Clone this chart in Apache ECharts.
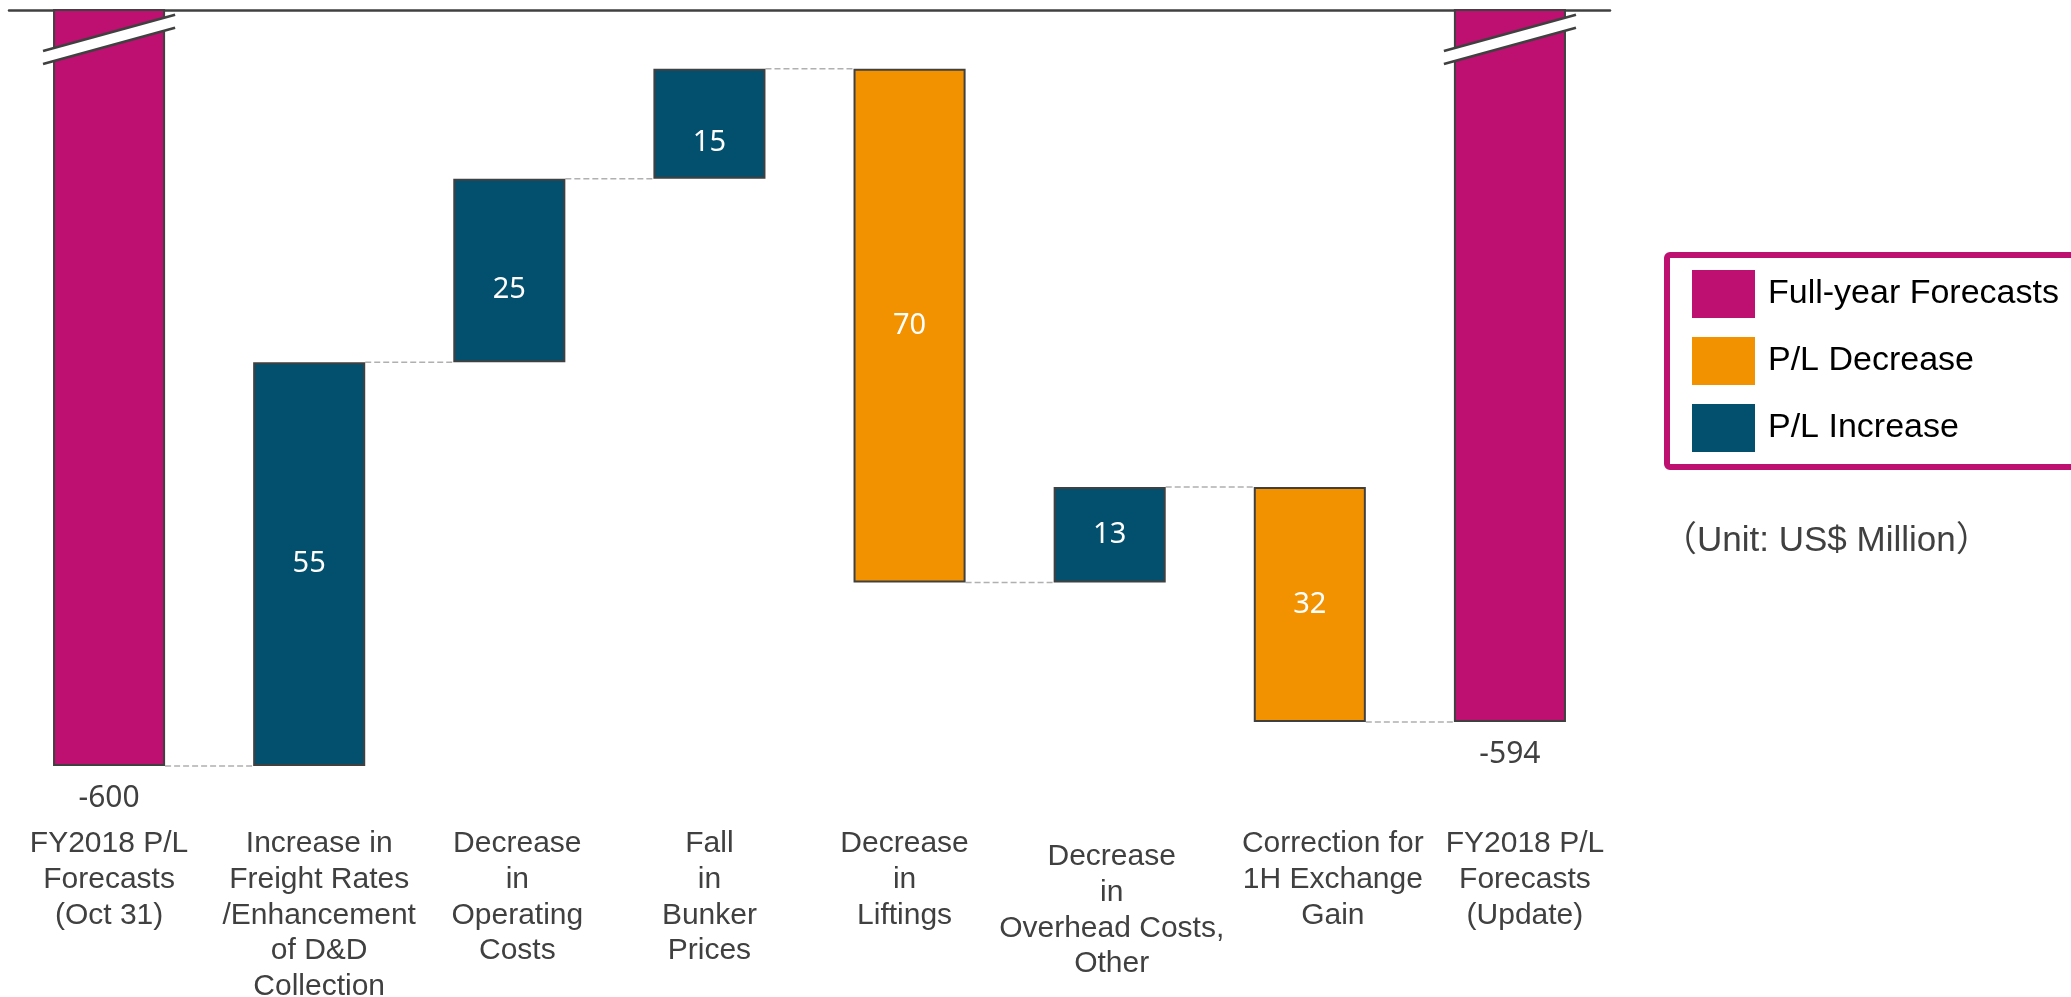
<!DOCTYPE html>
<html>
<head>
<meta charset="utf-8">
<script src="https://cdn.jsdelivr.net/npm/echarts@6/dist/echarts.min.js"></script>
<style>
html,body{margin:0;padding:0;background:#fff;}
#chart{width:2071px;height:997px;}
</style>
</head>
<body>
<div id="chart"></div>
<script>
// ---- data ----
const categories = [
  'FY2018 P/L\nForecasts\n(Oct 31)',
  'Increase in\nFreight Rates\n/Enhancement\nof D&D\nCollection',
  'Decrease\nin\nOperating\nCosts',
  'Fall\nin\nBunker\nPrices',
  'Decrease\nin\nLiftings',
  'Decrease\nin\nOverhead Costs,\nOther',
  'Correction for\n1H Exchange\nGain',
  'FY2018 P/L\nForecasts\n(Update)'
];
const startTotal = -600;
const changes = [55, 25, 15, -70, 13, -32];
const endTotal = -594;
const seriesNames = ['Full-year Forecasts', 'P/L Decrease', 'P/L Increase'];
const unitText = '（Unit: US$ Million）';
const axisMin = -600;
const axisMax = -497;
const breakValue = -501;

// ---- colours ----
const C_MAG = '#BE1070';
const C_ORG = '#F29200';
const C_TEAL = '#02506E';
const C_EDGE = '#404040';
const C_TEXT = '#404040';

// ---- build waterfall series ----
let level = startTotal;
const base = ['-'], inc = ['-'], dec = ['-'], tot = [startTotal];
const levels = [startTotal];
changes.forEach(function (c) {
  const next = level + c;
  const top = Math.max(level, next), bottom = Math.min(level, next);
  base.push(top);
  const d = bottom - top;
  if (c > 0) { inc.push(d); dec.push('-'); } else { dec.push(d); inc.push('-'); }
  tot.push('-');
  level = next;
  levels.push(level);
});
base.push('-'); inc.push('-'); dec.push('-'); tot.push(endTotal);

const connectors = [];
for (let i = 0; i < categories.length - 1; i++) connectors.push([i, levels[i]]);
const breaks = [[0, breakValue], [categories.length - 1, breakValue]];

const BAR_RATIO = 0.56;
// label style tweaks (pixels)
const labelShift = {2: 19, 3: 19};
function withLabelShift(arr) {
  return arr.map(function (v, i) {
    if (labelShift[i] && v !== '-') return {value: v, label: {offset: [0, labelShift[i]]}};
    return v;
  });
}
const catNudge = {1: [0, 10], 2: [0, 8], 4: [0, -5], 5: [13, 2], 6: [0, 23], 7: [0, 15]};
const axisCats = categories.map(function (c, i) {
  const n = catNudge[i];
  if (!n) return c;
  const dx = n[1];
  return {value: c, textStyle: {padding: [n[0], dx < 0 ? -2 * dx : 0, 0, dx > 0 ? 2 * dx : 0]}};
});

const innerLabel = {
  show: true, position: 'inside', color: '#fff',
  fontFamily: 'Noto Sans', fontSize: 29,
  formatter: function (p) { return Math.abs(p.value); }
};
const barItem = function (col) { return {color: col, borderColor: C_EDGE, borderWidth: 2}; };

const chart = echarts.init(document.getElementById('chart'));
chart.setOption({
  animation: false,
  backgroundColor: '#fff',
  title: {
    text: unitText, left: 1657, top: 519,
    textStyle: {fontFamily: "'Liberation Sans','Noto Sans CJK JP'", fontSize: 35, fontWeight: 'normal', color: C_TEXT}
  },
  legend: {
    orient: 'vertical', left: 1667, top: 255,
    data: seriesNames,
    icon: 'rect', itemWidth: 63, itemHeight: 48, itemGap: 19,
    padding: [15, 60, 15, 25],
    borderColor: C_MAG, borderWidth: 6, borderRadius: 3,
    itemStyle: {borderWidth: 0},
    textStyle: {fontFamily: 'Liberation Sans', fontSize: 34, color: '#000', padding: [0, 0, 0, 8]},
    selectedMode: false
  },
  grid: {left: 9, right: 461, top: 10, bottom: 231, outerBoundsMode: 'none', containLabel: false},
  xAxis: [{
    type: 'category', data: axisCats, position: 'bottom',
    axisLine: {show: false}, axisTick: {show: false},
    axisLabel: {interval: 0, margin: 60, color: C_TEXT, fontFamily: 'Liberation Sans', fontSize: 30, lineHeight: 35.7, align: 'center'}
  }, {
    type: 'category', data: categories, position: 'top',
    axisLine: {show: true, onZero: false, lineStyle: {color: C_EDGE, width: 2.5}},
    axisTick: {show: false}, axisLabel: {show: false}
  }],
  yAxis: {type: 'value', min: axisMin, max: axisMax, show: false, splitLine: {show: false}},
  series: [
    {type: 'custom', name: 'connector', z: 1, silent: true,
     data: connectors,
     renderItem: function (params, api) {
       const p1 = api.coord([api.value(0), api.value(1)]);
       const p2 = api.coord([api.value(0) + 1, api.value(1)]);
       const hw = api.size([1, 0])[0] * BAR_RATIO / 2;
       return {type: 'line', shape: {x1: p1[0] + hw, y1: p1[1], x2: p2[0] - hw, y2: p2[1]},
               style: {stroke: '#b0b0b0', lineWidth: 1.5, lineDash: [6, 3]}};
     }},
    {type: 'bar', name: 'base', stack: 'w', data: base, barWidth: (BAR_RATIO * 100) + '%',
     itemStyle: {color: 'transparent', borderWidth: 0}, silent: true},
    {type: 'bar', name: seriesNames[0], stack: 'w', data: tot, barWidth: (BAR_RATIO * 100) + '%',
     itemStyle: barItem(C_MAG),
     label: {show: true, position: 'bottom', distance: 17, color: C_TEXT, fontFamily: 'Noto Sans', fontSize: 30, lineHeight: 30}},
    {type: 'bar', name: seriesNames[1], stack: 'w', data: withLabelShift(dec), barWidth: (BAR_RATIO * 100) + '%',
     itemStyle: barItem(C_ORG), label: innerLabel},
    {type: 'bar', name: seriesNames[2], stack: 'w', data: withLabelShift(inc), barWidth: (BAR_RATIO * 100) + '%',
     itemStyle: barItem(C_TEAL), label: innerLabel},
    {type: 'custom', name: 'break', z: 10, silent: true,
     data: breaks,
     renderItem: function (params, api) {
       const c = api.coord([api.value(0), api.value(1)]);
       const hw = api.size([1, 0])[0] * BAR_RATIO / 2 + 10;
       const s = 0.2746, t = 6.5;
       const lx = c[0] - hw, rx = c[0] + hw, ly = c[1] + s * hw, ry = c[1] - s * hw;
       return {type: 'group', children: [
         {type: 'polygon', shape: {points: [[lx, ly - t], [rx, ry - t], [rx, ry + t], [lx, ly + t]]}, style: {fill: '#fff'}},
         {type: 'line', shape: {x1: lx, y1: ly - t, x2: rx, y2: ry - t}, style: {stroke: C_EDGE, lineWidth: 2.5}},
         {type: 'line', shape: {x1: lx, y1: ly + t, x2: rx, y2: ry + t}, style: {stroke: C_EDGE, lineWidth: 2.5}}
       ]};
     }}
  ]
});
</script>
</body>
</html>
